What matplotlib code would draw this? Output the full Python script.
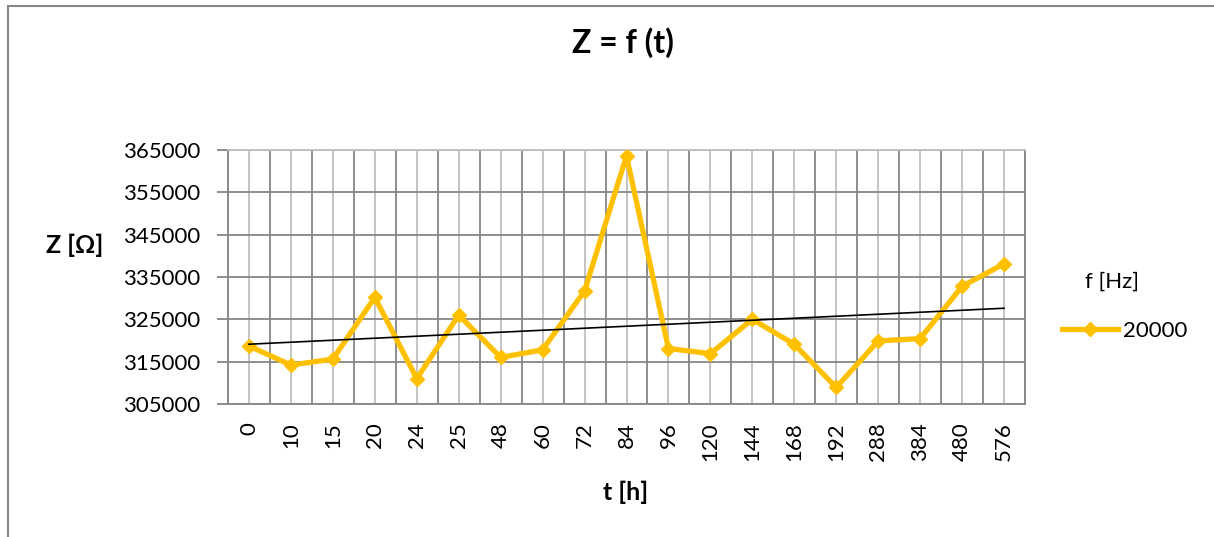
import numpy as np
import matplotlib
matplotlib.use("Agg")
import matplotlib.pyplot as plt
from matplotlib.patches import Rectangle

plt.rcParams['font.family'] = ['Lato', 'DejaVu Sans']

# ---- data ----
time_labels = ["0", "10", "15", "20", "24", "25", "48", "60", "72", "84",
               "96", "120", "144", "168", "192", "288", "384", "480", "576"]
impedance_20000 = [318700, 314200, 315600, 330200, 311000, 326000, 316000,
                   317800, 331700, 363600, 318100, 316900, 325000, 319100,
                   308900, 319900, 320450, 332800, 338100]
series_name = "20000"
legend_title = "f [Hz]"
y_ticks = [305000, 315000, 325000, 335000, 345000, 355000, 365000]

W, H = 1214, 537
fig = plt.figure(figsize=(W / 100, H / 100), dpi=100)
fig.patch.set_facecolor("white")

# outer chart frame (left and top edges visible)
fig.add_artist(Rectangle((8 / W, -0.2), 1.5, 1 - 6 / H + 0.2, transform=fig.transFigure,
                         fill=False, edgecolor="#868686", linewidth=1.5))

ax = fig.add_axes([228 / W, 1 - 404 / H, (1025 - 228) / W, (404 - 150) / H])

x = np.arange(len(time_labels))
line, = ax.plot(x, impedance_20000, color="#FFC000", linewidth=3.8, marker="D",
                markersize=7.5, markeredgewidth=1, solid_joinstyle="miter",
                label=series_name, zorder=3)

# linear trendline (as Excel computes it on category index)
coef = np.polyfit(x, impedance_20000, 1)
ax.plot(x, np.polyval(coef, x), color="black", linewidth=1.2, zorder=4)

ax.set_xlim(-0.5, len(time_labels) - 0.5)
ax.set_ylim(y_ticks[0], y_ticks[-1])
ax.set_yticks(y_ticks)
ax.set_yticklabels([str(v) for v in y_ticks])
ax.set_xticks(x)
ax.set_xticklabels(time_labels, rotation=90)
ax.set_xticks(np.arange(-0.5, len(time_labels)), minor=True)

ax.tick_params(axis="x", which="both", length=0, pad=13, labelsize=16)
ax.tick_params(axis="y", which="major", length=8, width=1.3, color="#868686",
               pad=12, labelsize=16)

ax.grid(axis="x", which="major", color="#BFBFBF", linewidth=1.3)
ax.grid(axis="x", which="minor", color="#868686", linewidth=1.3)
ax.grid(axis="y", which="major", color="#868686", linewidth=1.3)
ax.set_axisbelow(True)

for side in ["left", "bottom", "right"]:
    ax.spines[side].set_color("#868686")
    ax.spines[side].set_linewidth(1.3)
ax.spines["top"].set_color("#BFBFBF")
ax.spines["top"].set_linewidth(1.3)

ax.set_ylabel("Z [Ω]", rotation=0, fontsize=18, fontweight="bold",
              ha="center", va="center")
ax.yaxis.set_label_coords((75 - 228) / 797, (404 - 245) / 254)
ax.set_xlabel("t [h]", fontsize=18, fontweight="bold", ha="center", va="center")
ax.xaxis.set_label_coords((626 - 228) / 797, (404 - 492) / 254)

fig.text(623 / W, 1 - 43 / H, "Z = f (t)", fontsize=23, fontweight="bold",
         ha="center", va="center")

fig.text(1112 / W, 1 - 282 / H, legend_title, fontsize=16, ha="center", va="center")
leg = fig.legend(handles=[line], loc="center left",
                 bbox_to_anchor=(1062 / W, 1 - 331 / H), frameon=False,
                 fontsize=16, handlelength=2.5, handletextpad=0.25,
                 borderpad=0, borderaxespad=0)

fig.savefig("out.png", dpi=100, facecolor="white")
